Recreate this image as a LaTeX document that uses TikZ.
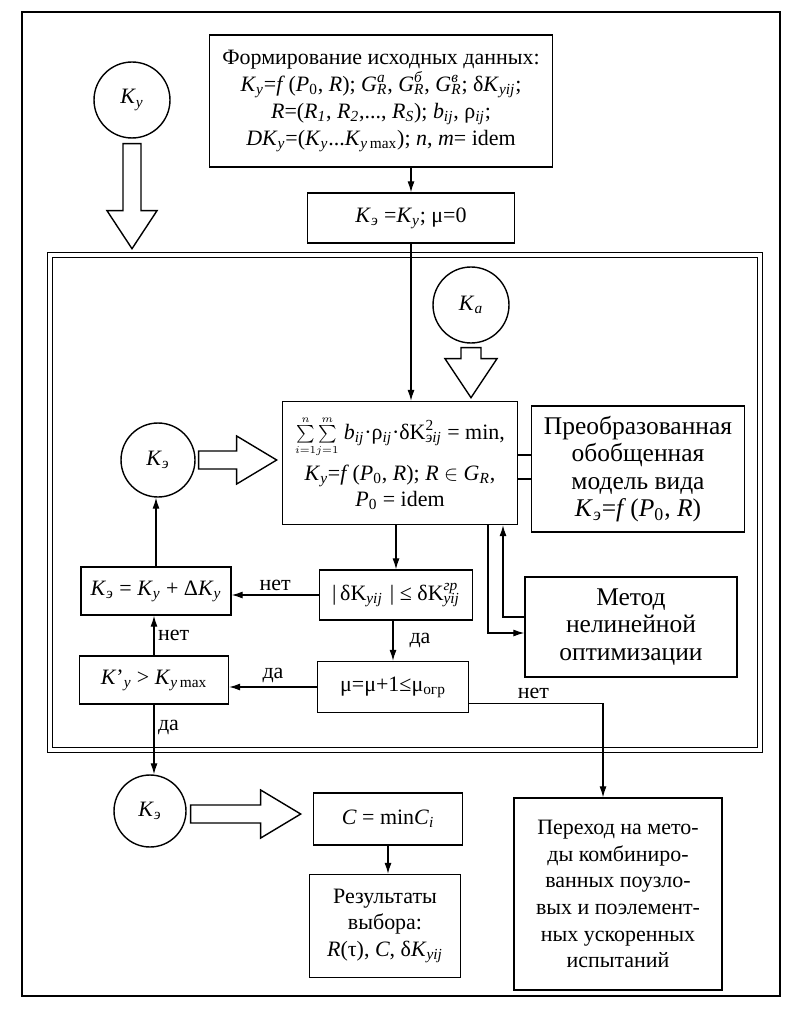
\documentclass[tikz,border=0pt]{standalone}
\usepackage{fontspec}
\setmainfont{Liberation Serif}
\usepackage{tikz}
\usetikzlibrary{positioning,arrows.meta,calc}
\newcommand\ivar[1]{\textit{#1}}
\newcommand\isub[1]{\textsubscript{\itshape #1}}
\newcommand\isupsub[2]{\rlap{\raisebox{1pt}{\textsuperscript{\itshape #1}}}\textsubscript{\itshape #2}}

\begin{document}
\begin{tikzpicture}[x=0.02cm, y=-0.02cm,
  every node/.style={font=\fontsize{12.5}{15.2}\selectfont},
  box/.style={rectangle, draw, line width=0.8pt, align=center, inner sep=2pt},
  bigtxt/.style={font=\fontsize{14.5}{15.5}\selectfont},
  rnd/.style={circle, draw, line width=0.8pt, minimum size=1.5cm, inner sep=0pt},
  arr/.style={-{Latex[length=2.2mm, width=1.4mm]}, line width=0.6pt},
  lnk/.style={line width=0.6pt},
  blk/.style={draw, line width=0.8pt, line join=miter, fill=white},
  lbl/.style={inner sep=2pt}
]
  \useasboundingbox (0,0) rectangle (796,1016);
  % ---- frames ----
  \draw[line width=0.8pt] (22,12) rectangle (780,996);
  \draw[line width=0.6pt, double, double distance=2.5pt] (50,255) rectangle (760,750);

  % ---- boxes ----
  \node[box, minimum width=6.86cm, minimum height=2.64cm] (ini) at (381,101)
    {Формирование исходных данных:\\
     \ivar{K}\isub{y}=\ivar{f}\,(\ivar{P}\textsubscript{0}, \ivar{R}); \ivar{G}\isupsub{a}{R}, \ivar{G}\isupsub{б}{R}, \ivar{G}\isupsub{в}{R}; δ\ivar{K}\isub{yij};\\
     \ivar{R}=(\ivar{R}\isub{1}, \ivar{R}\isub{2},..., \ivar{R}\isub{S}); \ivar{b}\isub{ij}, ρ\isub{ij};\\
     \ivar{DK}\isub{y}=(\ivar{K}\isub{y}...\ivar{K}\isub{y\,\upshape max}); \ivar{n}, \ivar{m}= idem};
  \node[box, minimum width=4.14cm, minimum height=1.0cm] (kzero) at (411,218)
    {\ivar{K}\isub{э} =\ivar{K}\isub{y}; μ=0};
  \node[box, minimum width=4.7cm, minimum height=2.46cm] (crit) at (400,463)
    {$\sum\limits_{\scriptscriptstyle i=1}^{\scriptscriptstyle n}\!\sum\limits_{\scriptscriptstyle j=1}^{\scriptscriptstyle m}$ \ivar{b}\isub{ij}·ρ\isub{ij}·δK\isupsub{\upshape 2}{эij} = min,\\[3pt]
     \ivar{K}\isub{y}=\ivar{f}\,(\ivar{P}\textsubscript{0}, \ivar{R}); \ivar{R} $\in$ \ivar{G}\isub{R},\\
     \ivar{P}\textsubscript{0} = idem};
  \node[box, bigtxt, minimum width=4.26cm, minimum height=2.52cm] (model) at (638,469)
    {Преобразованная\\обобщенная\\модель вида\\\ivar{K}\isub{э}=\ivar{f}\,(\ivar{P}\textsubscript{0}, \ivar{R})};
  \node[box, minimum width=3.06cm, minimum height=1.0cm] (chk) at (396,595)
    {|\,δK\isub{yij}\,\,| ≤ δK\isupsub{гр}{yij}};
  \node[box, minimum width=3.0cm, minimum height=0.96cm] (upd) at (156,591)
    {\ivar{K}\isub{э} = \ivar{K}\isub{y} + Δ\ivar{K}\isub{y}};
  \node[box, minimum width=2.98cm, minimum height=0.96cm] (kmax) at (154,680)
    {\ivar{K}’\isub{y} > \ivar{K}\isub{y\,\upshape max}};
  \node[box, minimum width=3.02cm, minimum height=1.02cm] (mu) at (393,687)
    {μ=μ+1≤μ\textsubscript{огр}};
  \node[box, bigtxt, minimum width=4.24cm, minimum height=2.0cm] (opt) at (631,627)
    {Метод\\нелинейной\\оптимизации};
  \node[box, minimum width=2.98cm, minimum height=1.04cm] (cmin) at (388,819)
    {\ivar{C} = min\ivar{C}\isub{i}};
  \node[box, minimum width=3.02cm, minimum height=2.06cm] (res) at (385,926)
    {Результаты\\выбора:\\\ivar{R}(τ), \ivar{C}, δ\ivar{K}\isub{yij}};
  \node[box, minimum width=4.16cm, minimum height=3.84cm] (trans) at (618,894)
    {Переход на мето-\\ды комбиниро-\\ванных поузло-\\вых и поэлемент-\\ных ускоренных\\испытаний};

  % ---- circles and block arrows ----
  \node[rnd, minimum size=1.52cm] (cy) at (132,100) {\ivar{K}\isub{y}};
  \node[rnd, minimum size=1.52cm] (ca) at (471,305) {\ivar{K}\isub{a}};
  \node[rnd, minimum size=1.48cm] (ce1) at (158,460) {\ivar{K}\isub{э}};
  \node[rnd, minimum size=1.44cm] (ce2) at (150,811) {\ivar{K}\isub{э}};
  \draw[blk] ($(cy.south)+(-9,5)$) -- ++(0,67) -- ++(-16,0) -- ++(25,38) -- ++(25,-38) -- ++(-16,0) -- ++(0,-67) -- cycle;
  \draw[blk] ($(ca.south)+(-10,4)$) -- ++(0,11) -- ++(-16,0) -- ++(26,39) -- ++(26,-39) -- ++(-16,0) -- ++(0,-11) -- cycle;
  \draw[blk] ($(ce1.east)+(3,-9)$) -- ++(38,0) -- ++(0,-15) -- ++(40,24) -- ++(-40,24) -- ++(0,-15) -- ++(-38,0) -- cycle;
  \draw[blk] ($(ce2.east)+(4,-6)$) -- ++(70,0) -- ++(0,-15) -- ++(40,24) -- ++(-40,24) -- ++(0,-15) -- ++(-70,0) -- cycle;

  % ---- connectors ----
  \draw[arr] (kzero.north |- ini.south) -- (kzero.north);
  \draw[arr] (kzero.south) -- (kzero.south |- crit.north);
  \draw[arr] (crit.south -| chk.north) -- (chk.north);
  \draw[arr] (chk.west) -- (chk.west -| upd.east) node[lbl, midway, above] {нет};
  \draw[arr] (upd.north) -- (upd.north |- ce1.south);
  \draw[arr] (kmax.north) -- (kmax.north |- upd.south) node[lbl, midway, right] {нет};
  \draw[arr] (kmax.south) -- (kmax.south |- ce2.north) node[lbl, pos=0.33, right] {да};
  \draw[arr] (chk.south -| mu.north) -- (mu.north) node[lbl, midway, right, xshift=2.5mm] {да};
  \draw[arr] (mu.west) -- (mu.west -| kmax.east) node[lbl, midway, above] {да};
  \draw[arr] ($(mu.south east)+(0,-10)$) -| ($(trans.north)+(-15,0)$) node[lbl, pos=0.24, above] {нет};
  \draw[arr] ($(crit.south)+(88,0)$) |- ($(opt.west)+(0,6)$);
  \draw[arr] ($(opt.west)+(0,-10)$) -| ($(crit.south)+(103,0)$);
  \coordinate (m1) at ($(crit.east)+(0,-8)$);
  \coordinate (m2) at ($(crit.east)+(0,16)$);
  \draw[lnk] (m1) -- (m1 -| model.west);
  \draw[lnk] (m2) -- (m2 -| model.west);
  \draw[arr] (cmin.south) -- (cmin.south |- res.north);
\end{tikzpicture}
\end{document}
